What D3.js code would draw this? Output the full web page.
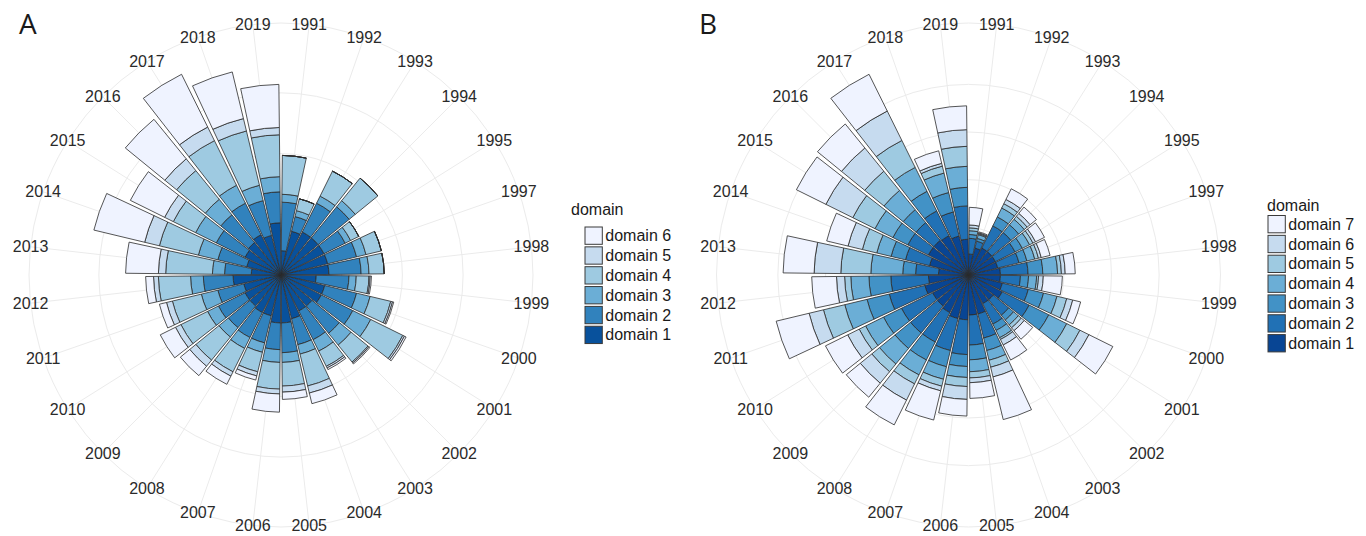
<!DOCTYPE html>
<html>
<head>
<meta charset="utf-8">
<script src="https://cdn.jsdelivr.net/npm/d3@7"></script>
<style>
  body { margin: 0; background: #ffffff; }
  svg text { font-family: "Liberation Sans", Arial, Helvetica, sans-serif; }
</style>
</head>
<body>
<svg id="chart" width="1366" height="536"></svg>
<script>
// Publication years on the angular axis (1996 has no entry)
const years = ["1991","1992","1993","1994","1995","1997","1998","1999","2000","2001",
  "2002","2003","2004","2005","2006","2007","2008","2009","2010","2011",
  "2012","2013","2014","2015","2016","2017","2018","2019"];

// Panel A: six domains, stacked from the centre outwards
const domainsA = ["domain 1","domain 2","domain 3","domain 4","domain 5","domain 6"];
const A_domain1 = [4.0,7.4,7.9,7.9,7.9,7.9,7.9,5.8,7.4,7.4,6.6,6.6,7.4,7.9,7.9,6.9,6.9,6.6,6.6,6.3,7.9,4.9,5.8,6.6,6.9,7.4,6.7,8.6];
const A_domain2 = [8.0,2.5,5.3,6.6,3.9,4.9,5.3,5.4,5.4,5.8,5.8,5.3,4.4,4.9,4.4,4.6,4.6,4.6,4.9,4.4,4.9,4.4,4.9,5.3,5.9,5.8,5.9,5.1];
const A_domain3 = [1.3,1.0,1.3,1.3,1.0,1.6,1.3,1.2,2.3,3.3,2.5,2.1,1.6,1.6,2.1,1.6,2.0,2.0,2.0,2.8,2.1,2.0,3.3,3.8,3.3,3.3,2.6,2.5];
const A_domain4 = [6.4,2.0,4.6,4.8,1.5,2.6,2.5,2.1,3.5,5.9,3.6,2.8,5.4,3.9,4.4,3.3,4.3,4.9,4.9,4.9,5.3,7.7,6.6,4.1,6.1,8.2,9.2,6.9];
const A_domain5 = [0,0,0,0,0,0,0,0.2,0.3,0.3,0.2,0.3,1.2,1.0,0.8,0.7,0.8,1.3,1.0,1.0,0.8,1.2,2.5,1.6,2.5,2.5,2.1,1.2];
const A_domain6 = [0,0,0,0,0,0,0,0.2,0.2,0.3,0.2,0.3,1.8,1.2,3.0,0.7,1.5,2.0,2.8,1.2,1.3,5.4,8.6,6.3,8.4,9.7,7.9,7.1];

// Panel B: seven domains
const domainsB = ["domain 1","domain 2","domain 3","domain 4","domain 5","domain 6","domain 7"];
const B_domain1 = [4.4,5.8,6.3,6.3,6.3,6.3,6.7,6.7,7.3,7.9,6.7,6.7,8.4,8.4,9.4,9.4,8.8,8.4,8.4,9.4,8.4,6.3,8.4,9.4,9.4,9.2,8.4,7.5];
const B_domain2 = [3.3,1.5,5.2,5.2,4.6,4.6,5.8,4.2,5.6,6.3,4.2,4.8,5.2,6.3,7.3,6.9,6.9,7.3,7.3,7.7,7.9,4.8,5.2,4.8,4.8,5.8,5.2,7.0];
const B_domain3 = [0.8,0.6,2.1,2.1,1.7,1.7,3.1,1.7,3.3,4.6,1.3,1.5,2.7,3.1,2.5,3.5,4.2,4.2,4.2,4.8,4.6,2.7,3.1,3.5,3.5,4.6,4.2,3.9];
const B_domain4 = [0.8,0.8,2.1,1.5,1.7,1.7,3.1,1.7,2.9,4.2,1.3,1.7,2.1,2.5,2.3,2.7,3.5,4.2,4.2,4.8,3.8,6.7,3.1,4.2,5.2,5.6,4.2,4.4];
const B_domain5 = [0.6,0.2,1.0,0.8,0.8,0.8,0.8,0.4,2.1,3.1,0.8,0.4,1.5,1.3,1.9,1.5,2.1,2.1,1.5,4.6,1.3,6.3,3.1,5.2,5.2,6.3,1.5,4.2];
const B_domain6 = [0.6,0.2,1.0,0.8,0.6,0.6,0.8,1.0,1.3,2.1,0.8,1.3,2.1,1.0,2.7,1.0,3.8,3.1,2.7,3.1,1.7,5.6,3.1,6.3,6.3,6.9,0.6,3.5];
const B_domain7 = [3.7,0.2,2.5,1.7,2.1,1.9,2.1,4.0,1.7,5.6,2.3,3.5,9.2,3.3,3.5,6.3,5.8,3.8,5.2,7.1,5.2,6.5,4.6,6.9,6.5,8.6,2.7,5.0];

// ColorBrewer "Blues", darkest for domain 1
const colorsA = ["#08519c","#3182bd","#6baed6","#9ecae1","#c6dbef","#eff3ff"];
const colorsB = ["#084594","#2171b5","#4292c6","#6baed6","#9ecae1","#c6dbef","#eff3ff"];

const svg = d3.select("#chart");
const panelSize = 560;           // polar panel side; bars reach 0.4, labels sit on 0.45
const gridColor = "#ebebeb";

function drawRose(cx, cy, series, domains, colors, tag, legendPos) {
  const g = svg.append("g").attr("transform", `translate(${cx},${cy})`);

  const rows = years.map((y, i) => {
    const row = { year: y };
    domains.forEach((d, k) => row[d] = series[k][i]);
    return row;
  });
  const stacked = d3.stack().keys(domains)(rows);
  const maxTotal = d3.max(rows, r => d3.sum(domains, d => r[d]));

  const theta = d3.scaleBand().domain(years).range([0, 2 * Math.PI])
    .paddingInner(0.1).paddingOuter(0.05);
  const r = d3.scaleLinear().domain([0, maxTotal]).range([0, 0.4 * panelSize]);
  const outer = 0.45 * panelSize;
  const mid = y => theta(y) + theta.bandwidth() / 2;

  // grid: spokes at each year and rings at the radial breaks plus the outer ring
  g.append("g").selectAll("line").data(years).join("line")
    .attr("x1", 0).attr("y1", 0)
    .attr("x2", y => outer * Math.sin(mid(y)))
    .attr("y2", y => -outer * Math.cos(mid(y)))
    .attr("stroke", gridColor).attr("stroke-width", 1);
  const rings = r.ticks(4).filter(t => t > 0).map(t => r(t)).concat([outer]);
  g.append("g").selectAll("circle").data(rings).join("circle")
    .attr("r", d => d).attr("fill", "none")
    .attr("stroke", gridColor).attr("stroke-width", 1);

  // stacked wedges
  const arc = d3.arc();
  stacked.forEach((layer, k) => {
    g.append("g").selectAll("path").data(layer).join("path")
      .attr("d", d => arc({
        innerRadius: r(d[0]), outerRadius: r(d[1]),
        startAngle: theta(d.data.year), endAngle: theta(d.data.year) + theta.bandwidth()
      }))
      .attr("fill", colors[k])
      .attr("stroke", "#2b2b2b").attr("stroke-width", 0.8);
  });

  // year labels centred on the outer ring
  g.append("g").selectAll("text").data(years).join("text")
    .attr("x", y => outer * Math.sin(mid(y)))
    .attr("y", y => -outer * Math.cos(mid(y)))
    .attr("text-anchor", "middle").attr("dominant-baseline", "central")
    .attr("font-size", 16).attr("fill", "#2a2a2a")
    .text(y => y);

  // panel tag
  svg.append("text").attr("x", tag.x).attr("y", tag.y)
    .attr("font-size", 28).attr("fill", "#1a1a1a")
    .style("font-family", "'Open Sans', 'DejaVu Sans', sans-serif")
    .text(tag.text);

  // legend, highest domain on top
  const lg = svg.append("g");
  lg.append("text").attr("x", legendPos.titleX).attr("y", legendPos.titleY)
    .attr("font-size", 16).attr("fill", "#1a1a1a").text("domain");
  const order = domains.map((d, k) => k).reverse();
  const key = 17.3, stepY = 19.85;
  order.forEach((k, j) => {
    const top = legendPos.keyY + j * stepY;
    lg.append("rect").attr("x", legendPos.keyX).attr("y", top)
      .attr("width", key).attr("height", key)
      .attr("fill", colors[k]).attr("stroke", "#3a3a3a").attr("stroke-width", 1);
    lg.append("text").attr("x", legendPos.keyX + key + 3).attr("y", top + key / 2)
      .attr("dominant-baseline", "central").attr("font-size", 16).attr("fill", "#1a1a1a")
      .text(domains[k]);
  });
}

drawRose(281, 275,
  [A_domain1, A_domain2, A_domain3, A_domain4, A_domain5, A_domain6],
  domainsA, colorsA, { text: "A", x: 19, y: 34 },
  { titleX: 571, titleY: 215, keyX: 585, keyY: 227 });

drawRose(968.5, 275,
  [B_domain1, B_domain2, B_domain3, B_domain4, B_domain5, B_domain6, B_domain7],
  domainsB, colorsB, { text: "B", x: 699, y: 34 },
  { titleX: 1267, titleY: 211, keyX: 1268, keyY: 215.5 });
</script>
</body>
</html>
